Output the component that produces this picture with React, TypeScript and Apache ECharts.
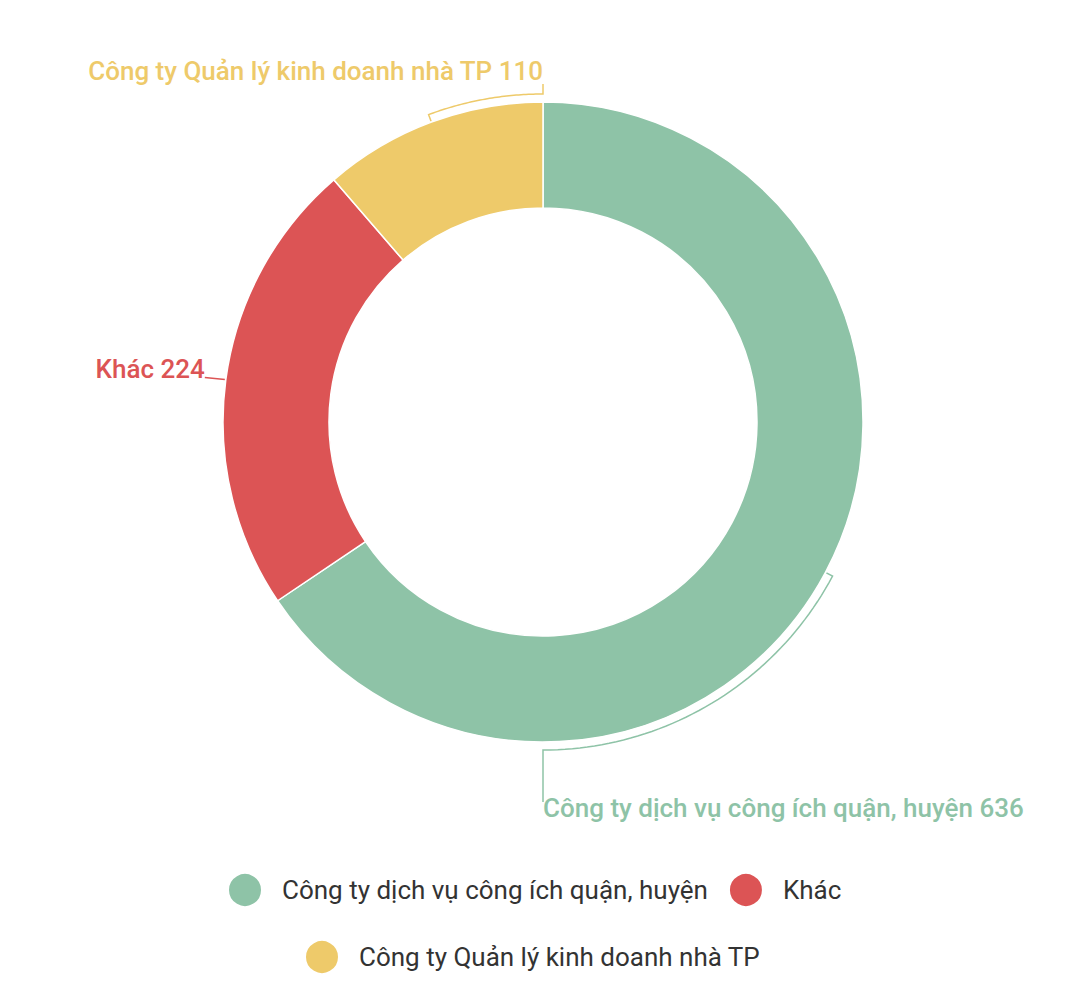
import React, { useEffect, useRef } from 'react';
import * as echarts from 'echarts';

// Chart data
const categories = [
  'Công ty dịch vụ công ích quận, huyện',
  'Khác',
  'Công ty Quản lý kinh doanh nhà TP',
];
const values = [636, 224, 110];
const colors = ['#8ec3a7', '#dc5455', '#eeca6a'];

// Layout
const CX = 543;
const CY = 422;
const R_IN = 214;
const R_OUT = 320;
const R_BRACKET = 328;

const total = values.reduce((a, b) => a + b, 0);
const midAngles = values.map((v, i) => {
  const before = values.slice(0, i).reduce((a, b) => a + b, 0);
  return ((before + v / 2) / total) * 360;
});

// angle in degrees, clockwise from 12 o'clock
const polar = (r: number, deg: number): number[] => {
  const a = (deg * Math.PI) / 180;
  return [CX + r * Math.sin(a), CY - r * Math.cos(a)];
};

const arc = (r: number, from: number, to: number): number[][] => {
  const pts: number[][] = [];
  const steps = 48;
  for (let s = 0; s <= steps; s++) {
    pts.push(polar(r, from + ((to - from) * s) / steps));
  }
  return pts;
};

const App: React.FC = () => {
  const chartRef = useRef<HTMLDivElement>(null);

  useEffect(() => {
    if (!chartRef.current) return;
    const chart = echarts.init(chartRef.current, undefined, { renderer: 'svg' });

    const font = 'Roboto, "Noto Sans", sans-serif';

    const labelLayout = (p: any) => {
      const i = p.dataIndex;
      const mid = midAngles[i];
      if (i === 0) {
        // bracket runs along the ring down to 6 o'clock, then drops to the label
        const pts = [polar(R_OUT + 1, mid), ...arc(R_BRACKET, mid, 180)];
        const end = pts[pts.length - 1];
        pts.push([end[0], end[1] + 52]);
        return { x: CX, y: 808, align: 'left', verticalAlign: 'middle', labelLinePoints: pts };
      }
      if (i === 2) {
        // bracket runs along the ring up to 12 o'clock, then rises to the label
        const pts = [polar(R_OUT + 1, mid), ...arc(R_BRACKET, mid, 360)];
        const end = pts[pts.length - 1];
        pts.push([end[0], end[1] - 10]);
        return { x: CX, y: 71, align: 'right', verticalAlign: 'middle', labelLinePoints: pts };
      }
      const start = polar(R_OUT + 1, mid);
      return {
        x: start[0] - 20,
        y: start[1] - 10,
        align: 'right',
        verticalAlign: 'middle',
        labelLinePoints: [start, [start[0] - 20, start[1] - 2]],
      };
    };

    const legendText = {
      fontFamily: font,
      fontSize: 26,
      color: '#333333',
      rich: {
        t: { fontFamily: font, fontSize: 26, color: '#333333', padding: [0, 0, 0, 15] },
      },
    };

    chart.setOption({
      animation: false,
      backgroundColor: '#ffffff',
      legend: [
        {
          data: [categories[0], categories[1]],
          left: 222,
          top: 867,
          orient: 'horizontal',
          icon: 'circle',
          itemWidth: 34,
          itemHeight: 34,
          itemGap: 20,
          formatter: '{t|{name}}',
          textStyle: legendText,
        },
        {
          data: [categories[2]],
          left: 299,
          top: 934,
          orient: 'horizontal',
          icon: 'circle',
          itemWidth: 34,
          itemHeight: 34,
          itemGap: 20,
          formatter: '{t|{name}}',
          textStyle: legendText,
        },
      ],
      series: [
        {
          type: 'pie',
          center: [CX, CY],
          radius: [R_IN, R_OUT],
          startAngle: 90,
          clockwise: true,
          avoidLabelOverlap: false,
          itemStyle: { borderColor: '#ffffff', borderWidth: 1.5 },
          label: {
            show: true,
            position: 'outside',
            formatter: '{b} {c}',
            fontFamily: font,
            fontSize: 26,
            fontWeight: 500,
          },
          labelLine: { show: true, smooth: false, lineStyle: { width: 1.5 } },
          labelLayout,
          emphasis: { disabled: true },
          data: categories.map((name, i) => ({
            name,
            value: values[i],
            itemStyle: { color: colors[i] },
            label: { color: colors[i] },
            labelLine: { lineStyle: { color: colors[i] } },
          })),
        },
      ],
    });

    return () => {
      chart.dispose();
    };
  }, []);

  return (
    <div
      ref={chartRef}
      style={{ position: 'absolute', left: 0, top: 0, width: 1085, height: 994 }}
    />
  );
};

export default App;
